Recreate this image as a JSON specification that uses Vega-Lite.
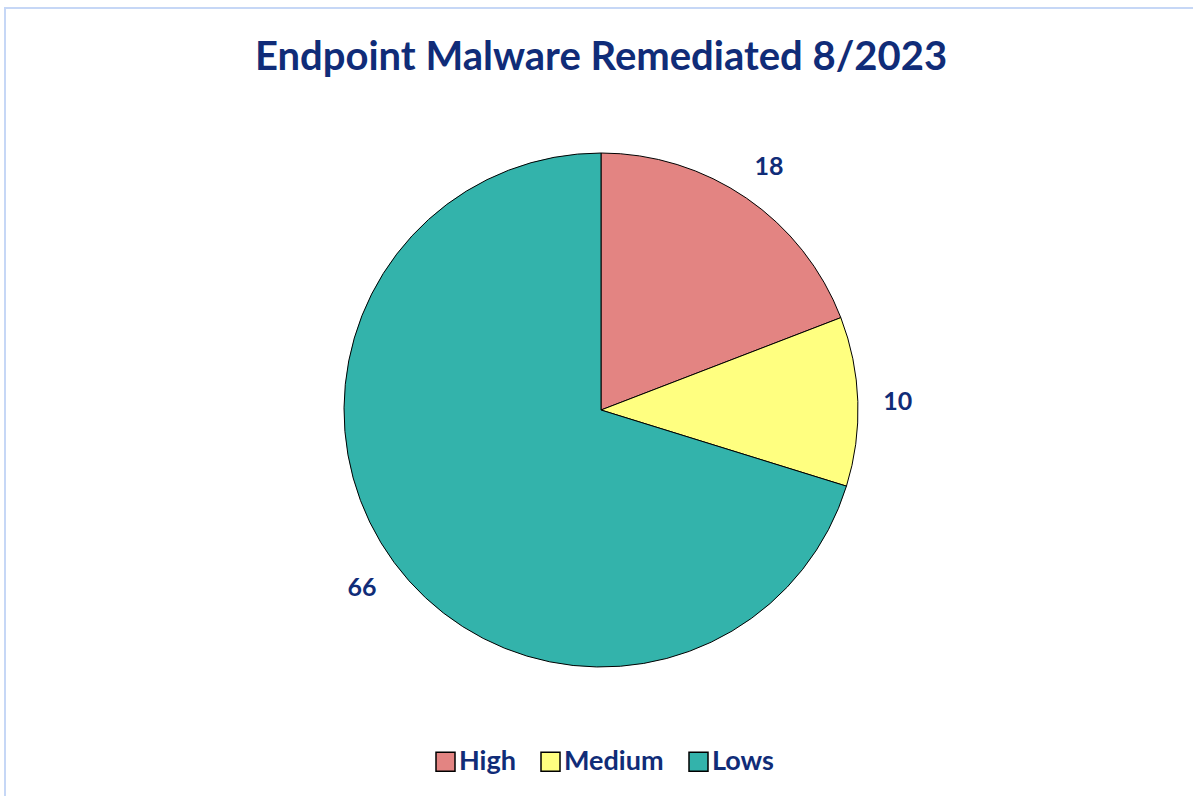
{
  "$schema": "https://vega.github.io/schema/vega-lite/v6.json",
  "autosize": "none",
  "width": 1192,
  "height": 804,
  "padding": {"left": 5, "top": 8, "right": -4, "bottom": -16},
  "background": "white",
  "view": {"stroke": "#c6d7f6", "strokeWidth": 2},
  "title": {
    "text": "Endpoint Malware Remediated 8/2023",
    "anchor": "middle",
    "frame": "group",
    "offset": -70,
    "font": "Lato",
    "fontSize": 40,
    "fontWeight": "bold",
    "color": "#102c78"
  },
  "data": {
    "values": [
      {"severity": "High", "count": 18, "rank": 1},
      {"severity": "Medium", "count": 10, "rank": 2},
      {"severity": "Lows", "count": 66, "rank": 3}
    ]
  },
  "encoding": {
    "theta": {"field": "count", "type": "quantitative", "stack": true},
    "order": {"field": "rank", "type": "quantitative"},
    "color": {
      "field": "severity",
      "type": "nominal",
      "sort": ["High", "Medium", "Lows"],
      "scale": {"domain": ["High", "Medium", "Lows"], "range": ["#e38482", "#ffff80", "#33b3ab"]},
      "legend": {
        "title": null,
        "orient": "none",
        "direction": "horizontal",
        "legendX": 427,
        "legendY": 740,
        "symbolType": "square",
        "symbolSize": 361,
        "symbolStrokeColor": "black",
        "symbolStrokeWidth": 1.5,
        "symbolOpacity": 1,
        "labelFont": "Lato",
        "labelFontSize": 27,
        "labelFontWeight": "bold",
        "labelColor": "#102c78",
        "labelOffset": 0,
        "columnPadding": 21
      }
    }
  },
  "layer": [
    {
      "mark": {"type": "arc", "outerRadius": 257, "stroke": "black", "strokeWidth": 1}
    },
    {
      "mark": {"type": "text", "radius": 297, "dy": 2, "font": "Lato", "fontSize": 25, "fontWeight": "bold"},
      "encoding": {
        "text": {"field": "count", "type": "quantitative"},
        "color": {"value": "#102c78"}
      }
    }
  ]
}
